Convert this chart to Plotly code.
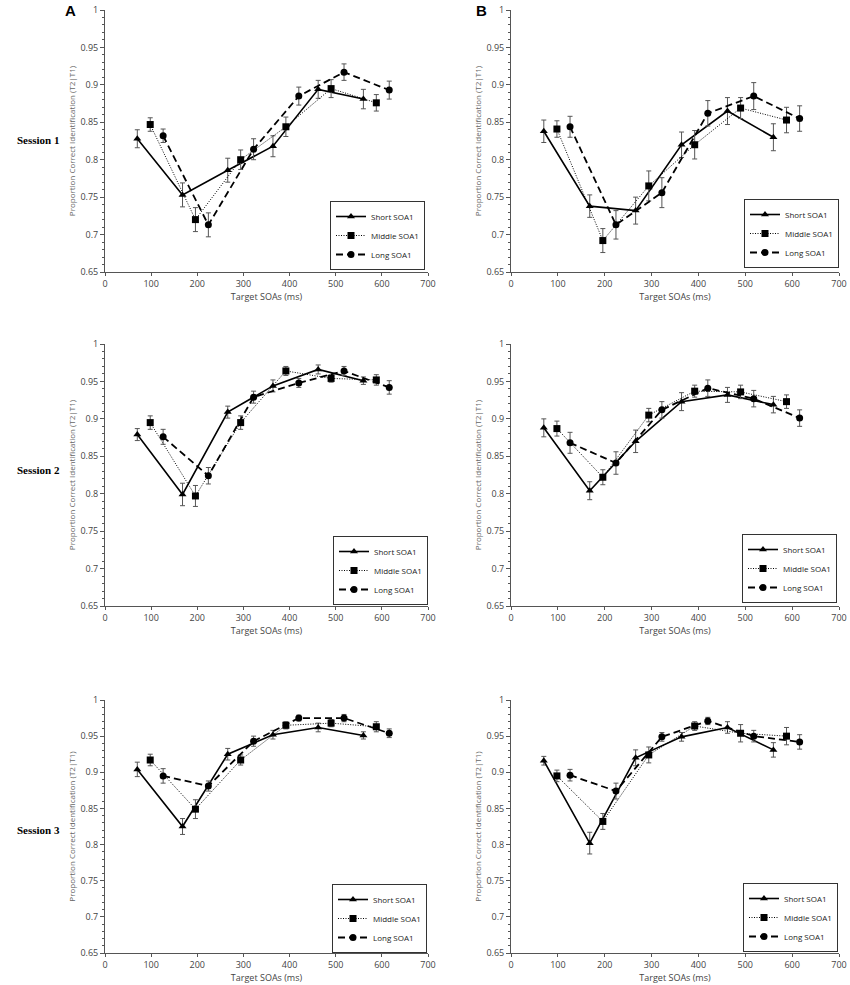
import plotly.graph_objects as go

# ---- data ----
short_x = [70, 168, 266, 364, 462, 560]
middle_x = [98, 196, 294, 392, 490, 588]
long_x = [126, 224, 322, 420, 518, 616]

# Panel A (left column)
a1_short = [0.828, 0.753, 0.786, 0.818, 0.894, 0.881]
a1_short_err = [0.012, 0.016, 0.016, 0.014, 0.012, 0.013]
a1_middle = [0.847, 0.720, 0.800, 0.844, 0.895, 0.876]
a1_middle_err = [0.009, 0.016, 0.013, 0.013, 0.012, 0.011]
a1_long = [0.832, 0.713, 0.814, 0.885, 0.917, 0.893]
a1_long_err = [0.009, 0.016, 0.014, 0.012, 0.011, 0.012]

a2_short = [0.879, 0.799, 0.909, 0.944, 0.966, 0.951]
a2_short_err = [0.008, 0.015, 0.008, 0.008, 0.006, 0.005]
a2_middle = [0.895, 0.797, 0.895, 0.964, 0.954, 0.952]
a2_middle_err = [0.009, 0.014, 0.009, 0.006, 0.005, 0.007]
a2_long = [0.876, 0.824, 0.929, 0.948, 0.964, 0.942]
a2_long_err = [0.010, 0.011, 0.008, 0.006, 0.006, 0.009]

a3_short = [0.904, 0.825, 0.925, 0.952, 0.962, 0.951]
a3_short_err = [0.010, 0.011, 0.008, 0.006, 0.006, 0.005]
a3_middle = [0.917, 0.849, 0.917, 0.965, 0.968, 0.963]
a3_middle_err = [0.008, 0.013, 0.007, 0.005, 0.005, 0.007]
a3_long = [0.895, 0.881, 0.943, 0.975, 0.975, 0.954]
a3_long_err = [0.010, 0.007, 0.007, 0.004, 0.005, 0.006]

# Panel B (right column)
b1_short = [0.838, 0.738, 0.732, 0.820, 0.865, 0.830]
b1_short_err = [0.015, 0.015, 0.018, 0.017, 0.018, 0.018]
b1_middle = [0.841, 0.692, 0.765, 0.820, 0.869, 0.853]
b1_middle_err = [0.011, 0.016, 0.020, 0.019, 0.014, 0.017]
b1_long = [0.844, 0.713, 0.756, 0.862, 0.885, 0.855]
b1_long_err = [0.014, 0.019, 0.020, 0.017, 0.018, 0.017]

b2_short = [0.888, 0.804, 0.870, 0.923, 0.932, 0.919]
b2_short_err = [0.012, 0.012, 0.015, 0.012, 0.010, 0.011]
b2_middle = [0.887, 0.822, 0.905, 0.937, 0.936, 0.923]
b2_middle_err = [0.010, 0.010, 0.009, 0.008, 0.009, 0.009]
b2_long = [0.868, 0.841, 0.912, 0.941, 0.927, 0.901]
b2_long_err = [0.014, 0.015, 0.011, 0.011, 0.011, 0.011]

b3_short = [0.916, 0.802, 0.920, 0.949, 0.962, 0.931]
b3_short_err = [0.006, 0.015, 0.011, 0.006, 0.008, 0.010]
b3_middle = [0.895, 0.832, 0.924, 0.964, 0.954, 0.950]
b3_middle_err = [0.008, 0.011, 0.011, 0.006, 0.012, 0.012]
b3_long = [0.896, 0.874, 0.949, 0.971, 0.950, 0.942]
b3_long_err = [0.008, 0.011, 0.006, 0.005, 0.008, 0.010]

series_names = ["Short SOA1", "Middle SOA1", "Long SOA1"]
session_labels = ["Session 1", "Session 2", "Session 3"]
panel_labels = ["A", "B"]
y_tickvals = [0.65, 0.7, 0.75, 0.8, 0.85, 0.9, 0.95, 1.0]
y_ticktext = ["0.65", "0.7", "0.75", "0.8", "0.85", "0.9", "0.95", "1"]
x_tickvals = [0, 100, 200, 300, 400, 500, 600, 700]

panels = [
    # (col, row, short, short_err, middle, middle_err, long, long_err)
    (0, 0, a1_short, a1_short_err, a1_middle, a1_middle_err, a1_long, a1_long_err),
    (1, 0, b1_short, b1_short_err, b1_middle, b1_middle_err, b1_long, b1_long_err),
    (0, 1, a2_short, a2_short_err, a2_middle, a2_middle_err, a2_long, a2_long_err),
    (1, 1, b2_short, b2_short_err, b2_middle, b2_middle_err, b2_long, b2_long_err),
    (0, 2, a3_short, a3_short_err, a3_middle, a3_middle_err, a3_long, a3_long_err),
    (1, 2, b3_short, b3_short_err, b3_middle, b3_middle_err, b3_long, b3_long_err),
]

W, H = 850, 985
x_dom_px = [(105, 428), (511, 839)]
y_dom_px = [(10, 272), (344, 606), (700, 953)]
legend_pos_px = {(0, 0): (425, 201), (1, 0): (839, 199), (0, 1): (428, 536),
                 (1, 1): (837, 534), (0, 2): (427, 884), (1, 2): (838, 883)}

styles = [
    dict(dash="solid", width=1.6, symbol="triangle-up", size=7),
    dict(dash="1px,1.5px", width=1.0, symbol="square", size=7),
    dict(dash="7px,4px", width=1.8, symbol="circle", size=7),
]
xs_all = [short_x, middle_x, long_x]

fig = go.Figure()
layout = {}
FONT = "Open Sans, Liberation Sans, sans-serif"
tick_font = dict(family=FONT, size=9, color="#444")

for i, (col, row, s, se, m, me, l, le) in enumerate(panels):
    n = i + 1
    xa = "x" if n == 1 else f"x{n}"
    ya = "y" if n == 1 else f"y{n}"
    lg = "legend" if n == 1 else f"legend{n}"
    ys = [s, m, l]
    es = [se, me, le]
    for k in range(3):
        st = styles[k]
        fig.add_trace(go.Scatter(
            x=xs_all[k], y=ys[k], name=series_names[k], mode="lines+markers",
            line=dict(color="black", width=st["width"], dash=st["dash"]),
            marker=dict(symbol=st["symbol"], size=st["size"], color="black"),
            error_y=dict(type="data", array=es[k], visible=True, color="#555",
                         thickness=1, width=2.5),
            xaxis=xa, yaxis=ya, legend=lg, showlegend=True,
        ))
    x0, x1 = x_dom_px[col]
    yt, yb = y_dom_px[row]
    layout["xaxis" if n == 1 else f"xaxis{n}"] = dict(
        domain=[x0 / W, x1 / W], anchor=ya, range=[0, 700], automargin=False,
        tickvals=x_tickvals, ticks="outside", ticklen=3, tickcolor="#555",
        showline=True, linecolor="#555", linewidth=1, showgrid=False, zeroline=False,
        tickfont=tick_font,
        title=dict(text="Target SOAs (ms)", font=tick_font, standoff=3),
    )
    layout["yaxis" if n == 1 else f"yaxis{n}"] = dict(
        domain=[1 - yb / H, 1 - yt / H], anchor=xa, range=[0.65, 1.0], automargin=False,
        tickvals=y_tickvals, ticktext=y_ticktext, ticks="outside", ticklen=4,
        tickcolor="#555", showline=True, linecolor="#555", linewidth=1,
        showgrid=False, zeroline=False, tickfont=tick_font,
        minor=dict(dtick=0.01, ticks="outside", ticklen=2.5, tickcolor="#555", showgrid=False),
        title=dict(text="Proportion Correct Identification (T2|T1)",
                   font=dict(family=FONT, size=8, color="#666"), standoff=3),
    )
    rx, ty = legend_pos_px[(col, row)]
    layout[lg] = dict(
        x=rx / W, y=1 - ty / H, xanchor="right", yanchor="top",
        bordercolor="#333", borderwidth=1, bgcolor="white",
        font=dict(family=FONT, size=8, color="#222"),
        itemwidth=30, tracegroupgap=0,
    )

annotations = []
for r, lab in enumerate(session_labels):
    yc = [140, 470, 830][r]
    annotations.append(dict(
        text=f"<b>{lab}</b>", x=38 / W, y=1 - yc / H, xref="paper", yref="paper",
        showarrow=False, xanchor="center", yanchor="middle",
        font=dict(family="Liberation Serif, serif", size=11, color="black")))
for c, lab in enumerate(panel_labels):
    xc = [70, 481][c]
    annotations.append(dict(
        text=f"<b>{lab}</b>", x=xc / W, y=1 - 11 / H, xref="paper", yref="paper",
        showarrow=False, xanchor="center", yanchor="middle",
        font=dict(family="Liberation Sans, Arial, sans-serif", size=15, color="black")))

fig.update_layout(
    width=W, height=H, margin=dict(l=0, r=0, t=0, b=0, autoexpand=False),
    paper_bgcolor="white", plot_bgcolor="white",
    annotations=annotations, **layout,
)

fig.write_html("out.html", config={"displayModeBar": False},
               post_script="document.body.style.margin='0px';document.body.style.overflow='hidden';")
